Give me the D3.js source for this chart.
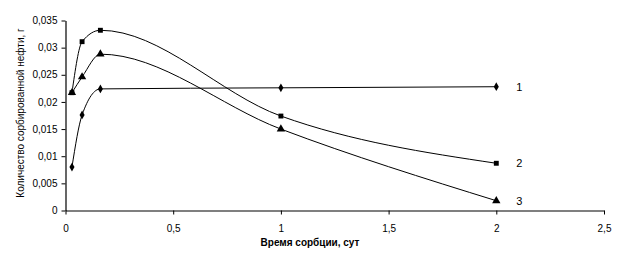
<!DOCTYPE html>
<html>
<head>
<meta charset="utf-8">
<script src="https://cdn.jsdelivr.net/npm/d3@7"></script>
<style>
  body { margin: 0; background: #fff; }
  text { font-family: "Liberation Sans", Arial, sans-serif; }
</style>
</head>
<body>
<svg id="chart" width="624" height="263"></svg>
<script>
const days = [0.03, 0.077, 0.162, 1, 2];
const series1 = [0.0080, 0.0176, 0.0224, 0.0226, 0.0228];
const series2 = [0.0217, 0.0311, 0.0332, 0.0174, 0.0087];
const series3 = [0.0217, 0.0246, 0.0288, 0.0150, 0.0018];
const seriesNames = ["1", "2", "3"];
const xTicks = [0, 0.5, 1, 1.5, 2, 2.5];
const yTicks = [0, 0.005, 0.01, 0.015, 0.02, 0.025, 0.03, 0.035];

const svg = d3.select("#chart");
const x = d3.scaleLinear().domain([0, 2.5]).range([65.5, 604]);
const y = d3.scaleLinear().domain([0, 0.035]).range([210.5, 20.5]);
const fmt = d => String(d).replace(".", ",");

// axes
const xAxis = svg.append("g")
  .attr("transform", "translate(0,210.5)")
  .call(d3.axisBottom(x).tickValues(xTicks).tickFormat(fmt).tickSize(4).tickSizeOuter(0));
const yAxis = svg.append("g")
  .attr("transform", "translate(65.5,0)")
  .call(d3.axisLeft(y).tickValues(yTicks).tickFormat(fmt).tickSize(4).tickSizeOuter(0));

[xAxis, yAxis].forEach(a => {
  a.select(".domain").attr("stroke", "#000").attr("stroke-width", 1.2);
  a.selectAll(".tick line").attr("stroke", "#000");
  a.selectAll(".tick text").attr("fill", "#000").style("font-size", "10px");
});
xAxis.selectAll(".tick text").attr("dy", "1.4em");
yAxis.selectAll(".tick text").attr("x", -8);

// axis titles
svg.append("text")
  .attr("x", 310).attr("y", 246)
  .attr("text-anchor", "middle")
  .style("font-size", "10px").style("font-weight", "bold")
  .text("Время сорбции, сут");
svg.append("text")
  .attr("transform", "translate(24,113) rotate(-90)")
  .attr("text-anchor", "middle")
  .style("font-size", "10px")
  .text("Количество сорбированной нефти, г");

const data = [series1, series2, series3].map((vals, i) => ({
  name: seriesNames[i],
  pts: vals.map((v, j) => ({ x: days[j], y: v })),
  symbol: [d3.symbolDiamond, d3.symbolSquare, d3.symbolTriangle][i],
  size: [22, 24, 30][i]
}));

const line = d3.line()
  .x(d => x(d.x)).y(d => y(d.y))
  .curve(d3.curveMonotoneX);

const g = svg.selectAll(".series").data(data).enter().append("g");

g.append("path")
  .attr("d", d => line(d.pts))
  .attr("fill", "none")
  .attr("stroke", "#000")
  .attr("stroke-width", 1);

g.each(function(d) {
  d3.select(this).selectAll(".pt").data(d.pts).enter().append("path")
    .attr("transform", p => `translate(${x(p.x)},${y(p.y)})`)
    .attr("d", d3.symbol().type(d.symbol).size(d.size))
    .attr("fill", "#000");
});

g.append("text")
  .attr("x", d => x(d.pts[d.pts.length - 1].x) + 20)
  .attr("y", d => y(d.pts[d.pts.length - 1].y) + 4)
  .style("font-size", "11px")
  .text(d => d.name);
</script>
</body>
</html>
